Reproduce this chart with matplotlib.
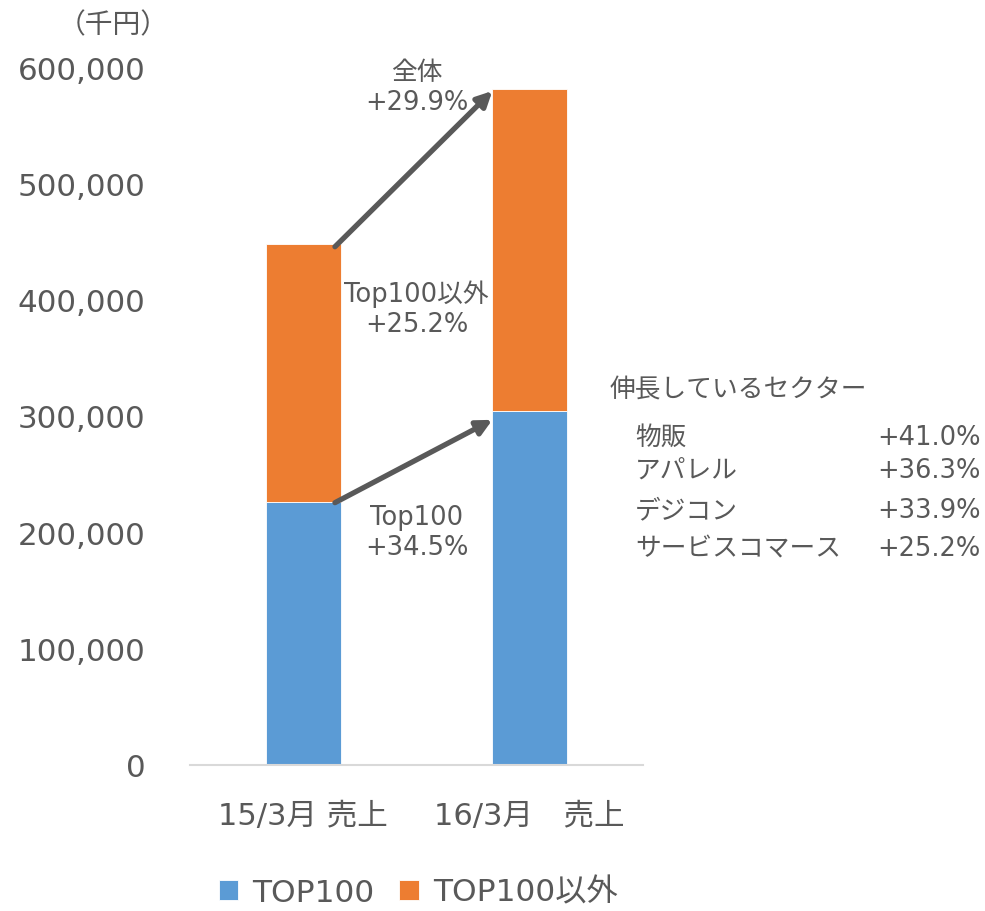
import matplotlib
matplotlib.use("Agg")
import matplotlib.pyplot as plt
import numpy as np

plt.rcParams['font.family'] = ['DejaVu Sans', 'Noto Sans CJK JP']

categories = ["15/3月 売上", "16/3月\u3000売上"]
top100 = [226500, 304700]
others = [221000, 276700]
series_names = ["TOP100", "TOP100以外"]
yticks = [0, 100000, 200000, 300000, 400000, 500000, 600000]
sectors = ["物販", "アパレル", "デジコン", "サービスコマース"]
sector_growth = ["+41.0%", "+36.3%", "+33.9%", "+25.2%"]

BLUE = "#5B9BD5"
ORANGE = "#ED7D31"
TXT = "#595959"

fig = plt.figure(figsize=(9.85, 9.12), dpi=100)
ax = fig.add_axes([190/985, (912-766)/912, (643-190)/985, (766-68)/912])

x = np.arange(len(categories))
w = 0.33
ax.bar(x, top100, w, color=BLUE, edgecolor="white", linewidth=0.6, label=series_names[0])
ax.bar(x, others, w, bottom=top100, color=ORANGE, edgecolor="white", linewidth=0.6, label=series_names[1])

ax.set_xlim(-0.5, 1.5)
ax.set_ylim(0, 600000)
ax.set_yticks(yticks)
ax.set_yticklabels([f"{v:,}" for v in yticks], fontsize=22.3, color=TXT)
ax.set_xticks(x)
ax.set_xticklabels(categories, fontsize=22, color=TXT)
ax.tick_params(axis='y', length=0, pad=32)
ax.tick_params(axis='x', length=0, pad=26)
for s in ["top", "right", "left"]:
    ax.spines[s].set_visible(False)
ax.spines["bottom"].set_color("#D9D9D9")
ax.spines["bottom"].set_linewidth(1.5)

totals = [a + b for a, b in zip(top100, others)]
arrow_kw = dict(arrowstyle="-|>,head_length=0.9,head_width=0.45", color=TXT, lw=3.8, shrinkA=0, shrinkB=0)
ax.annotate("", xy=(1 - w/2, totals[1] - 2000), xytext=(w/2 - 0.025, totals[0] - 2000), arrowprops=arrow_kw)
ax.annotate("", xy=(1 - w/2, top100[1] - 8000), xytext=(w/2 - 0.025, top100[0] - 1000), arrowprops=arrow_kw)

def pct(a, b):
    return f"+{(b/a - 1)*100:.1f}%"

FS = 18.5
ax.text(0.5, 583000, "全体\n" + pct(totals[0], totals[1]), ha="center", va="center",
        fontsize=FS, color=TXT, linespacing=1.2)
ax.text(0.5, 393000, "Top100以外\n" + pct(others[0], others[1]), ha="center", va="center",
        fontsize=FS, color=TXT, linespacing=1.2)
ax.text(0.5, 200000, "Top100\n" + pct(top100[0], top100[1]), ha="center", va="center",
        fontsize=FS, color=TXT, linespacing=1.2)

fig.text(113/985, 1 - 25/912, "（千円）", ha="center", va="center", fontsize=20, color=TXT)

fig.text(610/985, 1 - 391/912, "伸長しているセクター", ha="left", va="center", fontsize=FS, color=TXT)
row_y = [438, 471, 511, 549]
for name, g, yy in zip(sectors, sector_growth, row_y):
    fig.text(635/985, 1 - yy/912, name, ha="left", va="center", fontsize=FS, color=TXT)
    fig.text(981/985, 1 - yy/912, g, ha="right", va="center", fontsize=FS, color=TXT)

leg = fig.legend(loc="center", bbox_to_anchor=(418/985, 1 - 893/912), ncol=2, frameon=False,
                 fontsize=22.5, handlelength=0.62, handleheight=0.62, handletextpad=0.45, columnspacing=0.8)
for t in leg.get_texts():
    t.set_color(TXT)

fig.savefig("out.png", dpi=100)
